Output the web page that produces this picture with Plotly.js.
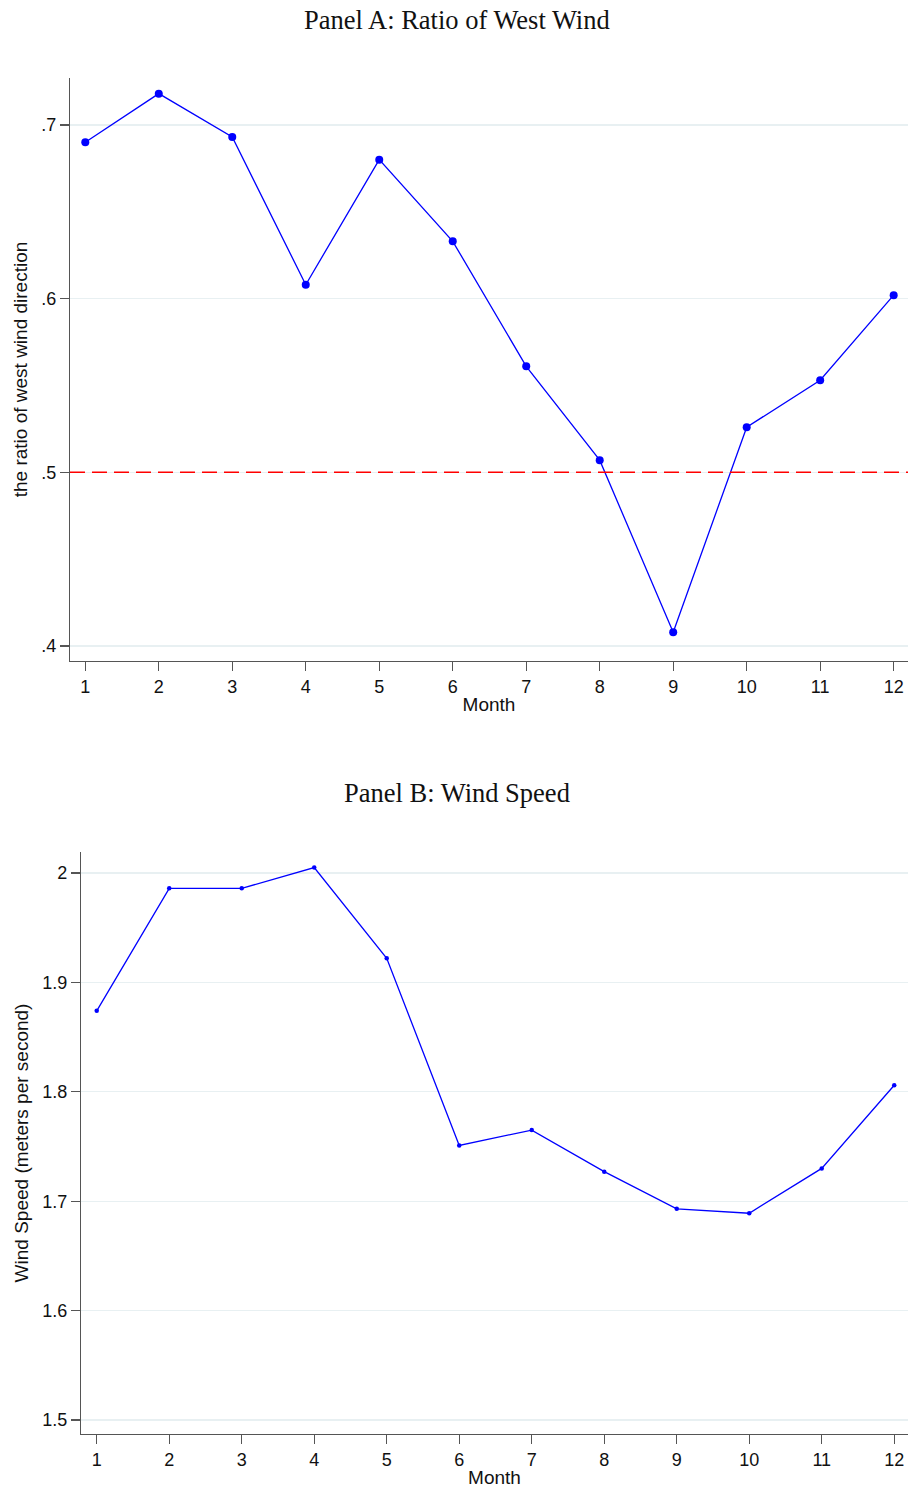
<!DOCTYPE html>
<html>
<head>
<meta charset="utf-8">
<script src="https://cdn.plot.ly/plotly-3.0.1.min.js"></script>
<style>html,body{margin:0;padding:0;background:#fff;}#chart{width:910px;height:1492px;}</style>
</head>
<body>
<div id="chart"></div>
<script>
const months = [1,2,3,4,5,6,7,8,9,10,11,12];
const westRatio = [0.690,0.718,0.693,0.608,0.680,0.633,0.561,0.507,0.408,0.526,0.553,0.602];
const windSpeed = [1.874,1.986,1.986,2.005,1.922,1.751,1.765,1.727,1.693,1.689,1.730,1.806];
const ratioTicks = [0.4,0.5,0.6,0.7];
const ratioTickText = ['.4','.5','.6','.7'];
const speedTicks = [1.5,1.6,1.7,1.8,1.9,2.0];
const speedTickText = ['1.5','1.6','1.7','1.8','1.9','2'];
const refLine = 0.5;

const W = 910, H = 1492;
const blue = '#0000ff';
const sans = 'Liberation Sans, Arial, sans-serif';
const serif = 'Liberation Serif, Times New Roman, serif';

const traces = [
  {x: months, y: westRatio, xaxis: 'x', yaxis: 'y', mode: 'lines+markers',
   line: {color: blue, width: 1.3}, marker: {color: blue, size: 8}},
  {x: months, y: windSpeed, xaxis: 'x2', yaxis: 'y2', mode: 'lines+markers',
   line: {color: blue, width: 1.3}, marker: {color: blue, size: 4.5}}
];

const axisCommon = {
  showline: true, linecolor: '#555', linewidth: 1.2,
  ticks: 'outside', ticklen: 9, tickwidth: 1.2, tickcolor: '#555',
  tickfont: {family: sans, size: 18, color: '#111'},
  zeroline: false, fixedrange: true
};
const titleFont = {family: sans, size: 19, color: '#111'};

const layout = {
  width: W, height: H,
  margin: {l: 0, r: 0, t: 0, b: 0},
  paper_bgcolor: '#fff', plot_bgcolor: '#fff',
  showlegend: false,
  xaxis: Object.assign({}, axisCommon, {
    domain: [70/W, 908/W], anchor: 'y', range: [0.792, 12.195],
    tickvals: months, showgrid: false,
    title: {text: 'Month', font: titleFont, standoff: 2}
  }),
  yaxis: Object.assign({}, axisCommon, {
    domain: [1-661/H, 1-78/H], anchor: 'x', range: [0.3914, 0.727],
    tickvals: ratioTicks, ticktext: ratioTickText,
    showgrid: true, gridcolor: '#e8f0f2', gridwidth: 1.2,
    title: {text: 'the ratio of west wind direction', font: titleFont, standoff: 8}
  }),
  xaxis2: Object.assign({}, axisCommon, {
    domain: [81/W, 908/W], anchor: 'y2', range: [0.783, 12.19],
    tickvals: months, showgrid: false,
    title: {text: 'Month', font: titleFont, standoff: 2}
  }),
  yaxis2: Object.assign({}, axisCommon, {
    domain: [1-1434/H, 1-852/H], anchor: 'x2', range: [1.4872, 2.0192],
    tickvals: speedTicks, ticktext: speedTickText,
    showgrid: true, gridcolor: '#e8f0f2', gridwidth: 1.2,
    title: {text: 'Wind Speed (meters per second)', font: titleFont, standoff: 8}
  }),
  shapes: [
    {type: 'line', xref: 'x domain', yref: 'y', x0: 0, x1: 1, y0: refLine, y1: refLine,
     line: {color: '#ff0000', width: 1.5, dash: '15px,7px'}, layer: 'above'}
  ],
  annotations: [
    {text: 'Panel A: Ratio of West Wind', xref: 'paper', yref: 'paper', x: 457/W, y: 1-20/H,
     xanchor: 'center', yanchor: 'middle', showarrow: false, font: {family: serif, size: 26.5, color: '#111'}},
    {text: 'Panel B: Wind Speed', xref: 'paper', yref: 'paper', x: 457/W, y: 1-793/H,
     xanchor: 'center', yanchor: 'middle', showarrow: false, font: {family: serif, size: 26.5, color: '#111'}}
  ]
};

Plotly.newPlot('chart', traces, layout, {displayModeBar: false, staticPlot: true});
</script>
</body>
</html>
